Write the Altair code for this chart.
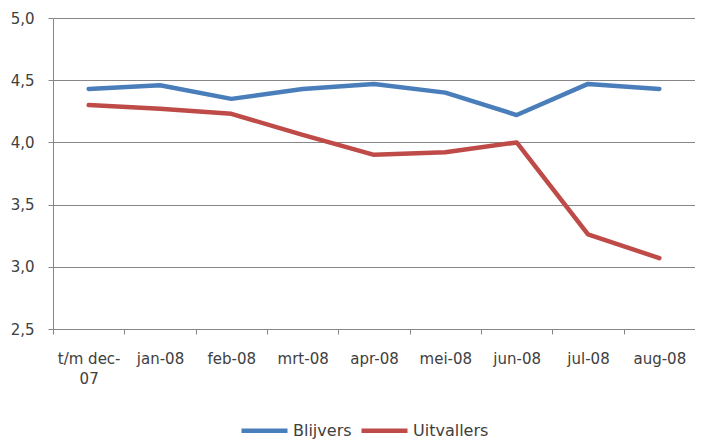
import altair as alt
import pandas as pd

categories = ["t/m dec-07", "jan-08", "feb-08", "mrt-08", "apr-08", "mei-08", "jun-08", "jul-08", "aug-08"]
blijvers = [4.43, 4.46, 4.35, 4.43, 4.47, 4.40, 4.22, 4.47, 4.43]
uitvallers = [4.30, 4.27, 4.23, 4.06, 3.90, 3.92, 4.00, 3.26, 3.07]
series = ["Blijvers", "Uitvallers"]
colors = ["#4A7EBB", "#BE4B48"]
y_ticks = [2.5, 3.0, 3.5, 4.0, 4.5, 5.0]

rows = []
for name, vals in zip(series, [blijvers, uitvallers]):
    for c, v in zip(categories, vals):
        rows.append({"maand": c, "serie": name, "waarde": v})
df = pd.DataFrame(rows)

FONT = "DejaVu Sans"
GRAY = "#868686"
TXT = "#404040"

chart = alt.Chart(df).mark_line(strokeWidth=4.5, strokeCap="round", strokeJoin="round").encode(
    x=alt.X(
        "maand:N",
        sort=categories,
        title=None,
        bandPosition=0.5,
        scale=alt.Scale(type="band", paddingInner=0, paddingOuter=0),
        axis=alt.Axis(
            labelAngle=0,
            tickBand="extent",
            grid=False,
            domainColor=GRAY,
            tickColor=GRAY,
            tickSize=5,
            labelPadding=17,
            labelFont=FONT,
            labelFontSize=15,
            labelColor=TXT,
            labelLineHeight=20,
            labelBaseline="top",
            labelExpr="datum.value == 't/m dec-07' ? ['t/m dec-', '07'] : datum.value",
        ),
    ),
    y=alt.Y(
        "waarde:Q",
        title=None,
        scale=alt.Scale(domain=[2.5, 5.0], nice=False, zero=False),
        axis=alt.Axis(
            values=y_ticks,
            labelExpr="replace(format(datum.value, '.1f'), '.', ',')",
            grid=True,
            gridColor=GRAY,
            domainColor=GRAY,
            tickColor=GRAY,
            tickSize=5,
            labelPadding=14,
            labelFont=FONT,
            labelFontSize=15,
            labelColor=TXT,
        ),
    ),
    color=alt.Color(
        "serie:N",
        scale=alt.Scale(domain=series, range=colors),
        legend=alt.Legend(
            title=None,
            orient="none",
            legendX=186,
            legendY=387,
            direction="horizontal",
            symbolType="stroke",
            symbolStrokeWidth=4.5,
            symbolSize=2116,
            labelFont=FONT,
            labelFontSize=16,
            labelColor=TXT,
            labelOffset=3,
            columnPadding=0,
        ),
    ),
).properties(
    width=642,
    height=311,
    padding={"left": 45, "top": 10, "right": 0, "bottom": 110},
    autosize="none",
    background="white",
).configure_view(stroke=None)

chart.save("out.html", embed_options={"renderer": "svg", "actions": False})
